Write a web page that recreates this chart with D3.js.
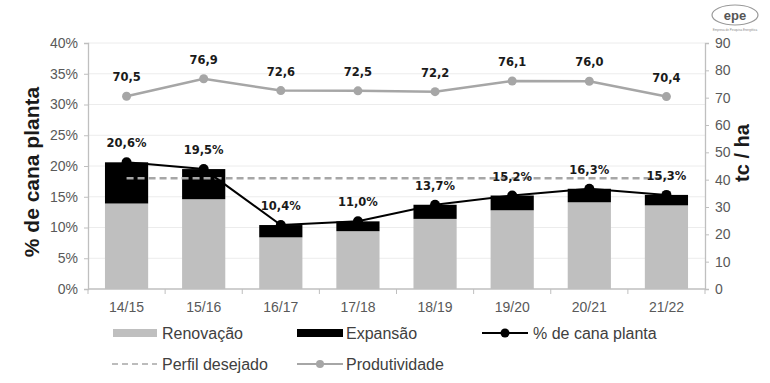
<!DOCTYPE html>
<html><head><meta charset="utf-8">
<script src="https://cdn.jsdelivr.net/npm/d3@7"></script>
<style>body{margin:0;background:#fff}svg{display:block}</style>
</head><body>
<svg id="c" width="770" height="383"></svg>
<script>
const categories = ["14/15","15/16","16/17","17/18","18/19","19/20","20/21","21/22"];
const renovacao = [13.9, 14.6, 8.4, 9.4, 11.4, 12.8, 14.1, 13.6];
const canaPlanta = [20.6, 19.5, 10.4, 11.0, 13.7, 15.2, 16.3, 15.3];
const perfilDesejado = [18, 18, 18, 18, 18, 18, 18, 18];
const produtividade = [70.5, 76.9, 72.6, 72.5, 72.2, 76.1, 76.0, 70.4];
const leftTicks = [0, 5, 10, 15, 20, 25, 30, 35, 40];
const rightTicks = [0, 10, 20, 30, 40, 50, 60, 70, 80, 90];

const svg = d3.select("#c");
const L = 88, R = 705, T = 43, B = 289;
const x = d3.scaleBand().domain(categories).range([L, R]).paddingInner(0.44).paddingOuter(0.22);
const y = d3.scaleLinear().domain([0, 40]).range([B, T]);
const y2 = d3.scaleLinear().domain([0, 90]).range([B, T]);
const cx = c => x(c) + x.bandwidth() / 2;
const fmt = v => v.toFixed(1).replace(".", ",");
const tickFont = "'Liberation Sans', Arial, sans-serif";
const boldFont = "'DejaVu Sans', Verdana, sans-serif";

// gridlines
svg.append("g").selectAll("line").data(leftTicks.slice(1)).join("line")
  .attr("x1", L).attr("x2", R).attr("y1", d => y(d)).attr("y2", d => y(d))
  .attr("stroke", "#ececec").attr("stroke-width", 1);

// bars
const bars = svg.append("g");
categories.forEach((c, i) => {
  bars.append("rect").attr("x", x(c)).attr("width", x.bandwidth())
    .attr("y", y(renovacao[i])).attr("height", y(0) - y(renovacao[i])).attr("fill", "#bfbfbf");
  bars.append("rect").attr("x", x(c)).attr("width", x.bandwidth())
    .attr("y", y(canaPlanta[i])).attr("height", y(renovacao[i]) - y(canaPlanta[i])).attr("fill", "#000");
});

// axes
const axL = svg.append("g").attr("transform", `translate(${L},0)`)
  .call(d3.axisLeft(y).tickValues(leftTicks).tickSize(4).tickPadding(6).tickFormat(d => d + "%"));
const axR = svg.append("g").attr("transform", `translate(${R},0)`)
  .call(d3.axisRight(y2).tickValues(rightTicks).tickSize(4).tickPadding(6));
const axB = svg.append("g").attr("transform", `translate(0,${B})`)
  .call(d3.axisBottom(x).tickSize(0).tickPadding(13));
[axL, axR, axB].forEach(a => {
  a.select(".domain").attr("stroke", "#bfbfbf").attr("stroke-width", 1.3);
  a.selectAll(".tick line").attr("stroke", "#bfbfbf");
  a.selectAll(".tick text").attr("fill", "#595959").style("font-family", tickFont).style("font-size", "14px");
});
axB.select(".domain").attr("d", `M${L},0H${R}`);
// category boundary ticks
axB.append("g").selectAll("line").data(d3.range(categories.length + 1)).join("line")
  .attr("x1", i => L + i * x.step()).attr("x2", i => L + i * x.step())
  .attr("y1", 0).attr("y2", 5).attr("stroke", "#bfbfbf");

// perfil desejado dashed
const lineP = d3.line().x((d, i) => cx(categories[i])).y(d => y(d));
svg.append("path").datum(perfilDesejado).attr("d", lineP).attr("fill", "none")
  .attr("stroke", "#a6a6a6").attr("stroke-width", 2.5).attr("stroke-dasharray", "7,4");

// % de cana planta line
svg.append("path").datum(canaPlanta).attr("d", lineP).attr("fill", "none")
  .attr("stroke", "#000").attr("stroke-width", 2);
svg.append("g").selectAll("circle").data(canaPlanta).join("circle")
  .attr("cx", (d, i) => cx(categories[i])).attr("cy", d => y(d)).attr("r", 5).attr("fill", "#000");
svg.append("g").selectAll("text").data(canaPlanta).join("text")
  .attr("x", (d, i) => cx(categories[i])).attr("y", d => y(d) - 15)
  .attr("text-anchor", "middle").style("font-family", boldFont).style("font-weight", "bold")
  .style("font-size", "11.5px").attr("fill", "#1a1a1a").text(d => fmt(d) + "%");

// produtividade
const line2 = d3.line().x((d, i) => cx(categories[i])).y(d => y2(d));
svg.append("path").datum(produtividade).attr("d", line2).attr("fill", "none")
  .attr("stroke", "#a6a6a6").attr("stroke-width", 2.5);
svg.append("g").selectAll("circle").data(produtividade).join("circle")
  .attr("cx", (d, i) => cx(categories[i])).attr("cy", d => y2(d)).attr("r", 4.5).attr("fill", "#a6a6a6");
svg.append("g").selectAll("text").data(produtividade).join("text")
  .attr("x", (d, i) => cx(categories[i])).attr("y", d => y2(d) - 15)
  .attr("text-anchor", "middle").style("font-family", boldFont).style("font-weight", "bold")
  .style("font-size", "11.5px").attr("fill", "#1a1a1a").text(d => fmt(d));

// axis titles
svg.append("text").attr("transform", "translate(39,172) rotate(-90)").attr("text-anchor", "middle")
  .style("font-family", tickFont).style("font-weight", "bold").style("font-size", "21px")
  .attr("fill", "#1a1a1a").text("% de cana planta");
svg.append("text").attr("transform", "translate(749,153) rotate(-90)").attr("text-anchor", "middle")
  .style("font-family", tickFont).style("font-weight", "bold").style("font-size", "20px")
  .attr("fill", "#1a1a1a").text("tc / ha");

// legend
const lg = svg.append("g").style("font-family", tickFont).style("font-size", "16px");
const r1 = 333, r2 = 364;
lg.append("rect").attr("x", 113).attr("y", r1 - 4).attr("width", 44).attr("height", 8).attr("fill", "#bfbfbf");
lg.append("text").attr("x", 162).attr("y", r1 + 5.5).attr("fill", "#404040").text("Renovação");
lg.append("rect").attr("x", 297).attr("y", r1 - 4).attr("width", 46).attr("height", 8).attr("fill", "#000");
lg.append("text").attr("x", 346).attr("y", r1 + 5.5).attr("fill", "#404040").text("Expansão");
lg.append("line").attr("x1", 482).attr("x2", 528).attr("y1", r1).attr("y2", r1).attr("stroke", "#000").attr("stroke-width", 2);
lg.append("circle").attr("cx", 505).attr("cy", r1).attr("r", 4.5).attr("fill", "#000");
lg.append("text").attr("x", 533).attr("y", r1 + 5.5).attr("fill", "#404040").text("% de cana planta");
lg.append("line").attr("x1", 112).attr("x2", 157).attr("y1", r2).attr("y2", r2).attr("stroke", "#a6a6a6").attr("stroke-width", 1.5).attr("stroke-dasharray", "6,4");
lg.append("text").attr("x", 162).attr("y", r2 + 5.5).attr("fill", "#404040").text("Perfil desejado");
lg.append("line").attr("x1", 297).attr("x2", 343).attr("y1", r2).attr("y2", r2).attr("stroke", "#a6a6a6").attr("stroke-width", 2);
lg.append("circle").attr("cx", 320).attr("cy", r2).attr("r", 4).attr("fill", "#a6a6a6");
lg.append("text").attr("x", 346).attr("y", r2 + 5.5).attr("fill", "#404040").text("Produtividade");

// logo
const logo = svg.append("g");
logo.append("ellipse").attr("cx", 735).attr("cy", 15).attr("rx", 23).attr("ry", 10)
  .attr("fill", "none").attr("stroke", "#999").attr("stroke-width", 1.2);
logo.append("text").attr("x", 735).attr("y", 19.5).attr("text-anchor", "middle")
  .style("font-family", tickFont).style("font-weight", "bold").style("font-size", "13px")
  .attr("fill", "#555").text("epe");
logo.append("text").attr("x", 735).attr("y", 31).attr("text-anchor", "middle")
  .style("font-family", tickFont).style("font-size", "3px").attr("fill", "#888")
  .text("Empresa de Pesquisa Energética");
</script>
</body></html>
